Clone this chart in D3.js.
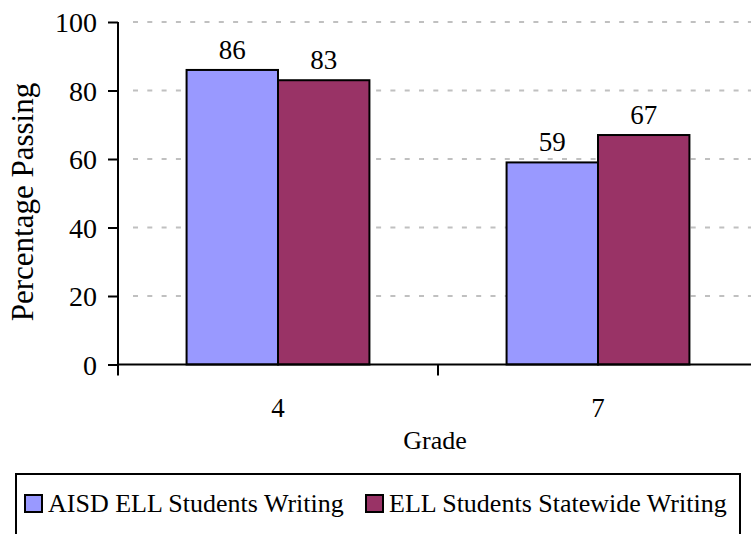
<!DOCTYPE html>
<html>
<head>
<meta charset="utf-8">
<script src="https://cdn.jsdelivr.net/npm/d3@7"></script>
<style>
  html, body { margin: 0; padding: 0; background: #fff; }
  svg { display: block; }
  svg text { font-family: "Liberation Serif", "Times New Roman", serif; fill: #000; }
</style>
</head>
<body>
<svg id="chart" width="751" height="534"></svg>
<script>
// Passing rates by grade
const grades = ["4", "7"];
const seriesNames = ["AISD ELL Students Writing", "ELL Students Statewide Writing"];
const aisdValues = [86, 59];
const statewideValues = [83, 67];
const yTicks = [0, 20, 40, 60, 80, 100];
const colors = ["#9999FF", "#993366"];

const svg = d3.select("#chart");
const plot = { left: 118, right: 758, top: 22, bottom: 364.5 };

const x = d3.scaleBand().domain(grades).range([plot.left, plot.right]).paddingInner(0).paddingOuter(0);
const y = d3.scaleLinear().domain([0, 100]).range([plot.bottom, plot.top]);

// two bars per group, 150% gap between groups
const bw = x.bandwidth();
const barW = bw / 3.5;
const sub = d3.scaleBand().domain(seriesNames)
  .range([(bw - 2 * barW) / 2, (bw + 2 * barW) / 2]).padding(0);

// dashed gridlines
svg.append("g").selectAll("line").data(yTicks.filter(d => d > 0)).join("line")
  .attr("x1", plot.left + 15).attr("x2", 751)
  .attr("y1", d => y(d)).attr("y2", d => y(d))
  .attr("stroke", "#c0c0c0").attr("stroke-width", 2).attr("stroke-dasharray", "5,9.3");

// bars
const rows = grades.map((g, i) => ({ grade: g, vals: [aisdValues[i], statewideValues[i]] }));
const groups = svg.append("g").selectAll("g").data(rows).join("g")
  .attr("transform", d => `translate(${x(d.grade)},0)`);

groups.selectAll("rect").data(d => d.vals.map((v, j) => ({ v, j }))).join("rect")
  .attr("x", d => sub(seriesNames[d.j]))
  .attr("width", sub.bandwidth())
  .attr("y", d => y(d.v))
  .attr("height", d => y(0) - y(d.v))
  .attr("fill", d => colors[d.j])
  .attr("stroke", "#000").attr("stroke-width", 2);

// value labels
groups.selectAll("text").data(d => d.vals.map((v, j) => ({ v, j }))).join("text")
  .attr("x", d => sub(seriesNames[d.j]) + sub.bandwidth() / 2)
  .attr("y", d => y(d.v) - 11)
  .attr("text-anchor", "middle")
  .attr("font-size", 27)
  .text(d => d.v);

// y axis
const yAxis = d3.axisLeft(y).tickValues(yTicks).tickSize(10).tickPadding(11);
const gy = svg.append("g").attr("transform", `translate(${plot.left},0)`).call(yAxis);
gy.attr("font-family", null).attr("font-size", null);
gy.select(".domain").attr("stroke", "#000").attr("stroke-width", 2).attr("d", `M0,${plot.top}V${plot.bottom + 1}`);
gy.selectAll(".tick line").attr("stroke", "#000").attr("stroke-width", 2);
gy.selectAll(".tick text").attr("font-size", 28).attr("fill", "#000").attr("dy", "0.34em");

// x axis: tick marks at category boundaries, labels at centres
const gx = svg.append("g").attr("transform", `translate(0,${plot.bottom})`);
gx.append("line").attr("x1", plot.left - 1).attr("x2", 751).attr("stroke", "#000").attr("stroke-width", 2);
const bounds = grades.map(g => x(g)).concat([plot.right]);
gx.selectAll("line.tk").data(bounds).join("line").attr("class", "tk")
  .attr("x1", d => d).attr("x2", d => d).attr("y1", 0).attr("y2", 11)
  .attr("stroke", "#000").attr("stroke-width", 2);
gx.selectAll("text").data(grades).join("text")
  .attr("x", d => x(d) + bw / 2).attr("y", 52.5)
  .attr("text-anchor", "middle").attr("font-size", 27).text(d => d);

// axis titles
svg.append("text").attr("x", 435).attr("y", 449).attr("text-anchor", "middle")
  .attr("font-size", 26).text("Grade");
svg.append("text").attr("transform", "translate(33,202) rotate(-90)")
  .attr("text-anchor", "middle").attr("font-size", 31).text("Percentage Passing");

// legend (box runs past the bottom edge)
const lg = svg.append("g");
lg.append("rect").attr("x", 16).attr("y", 474).attr("width", 724).attr("height", 80)
  .attr("fill", "#fff").attr("stroke", "#000").attr("stroke-width", 2);
const itemX = [25, 366];
const items = lg.selectAll("g").data(seriesNames).join("g")
  .attr("transform", (d, i) => `translate(${itemX[i]},512)`);
items.append("rect").attr("x", 0).attr("y", -17).attr("width", 17).attr("height", 17)
  .attr("fill", (d, i) => colors[i]).attr("stroke", "#000").attr("stroke-width", 2);
items.append("text").attr("x", 23).attr("y", 0)
  .attr("font-size", 26).text(d => d);
</script>
</body>
</html>
